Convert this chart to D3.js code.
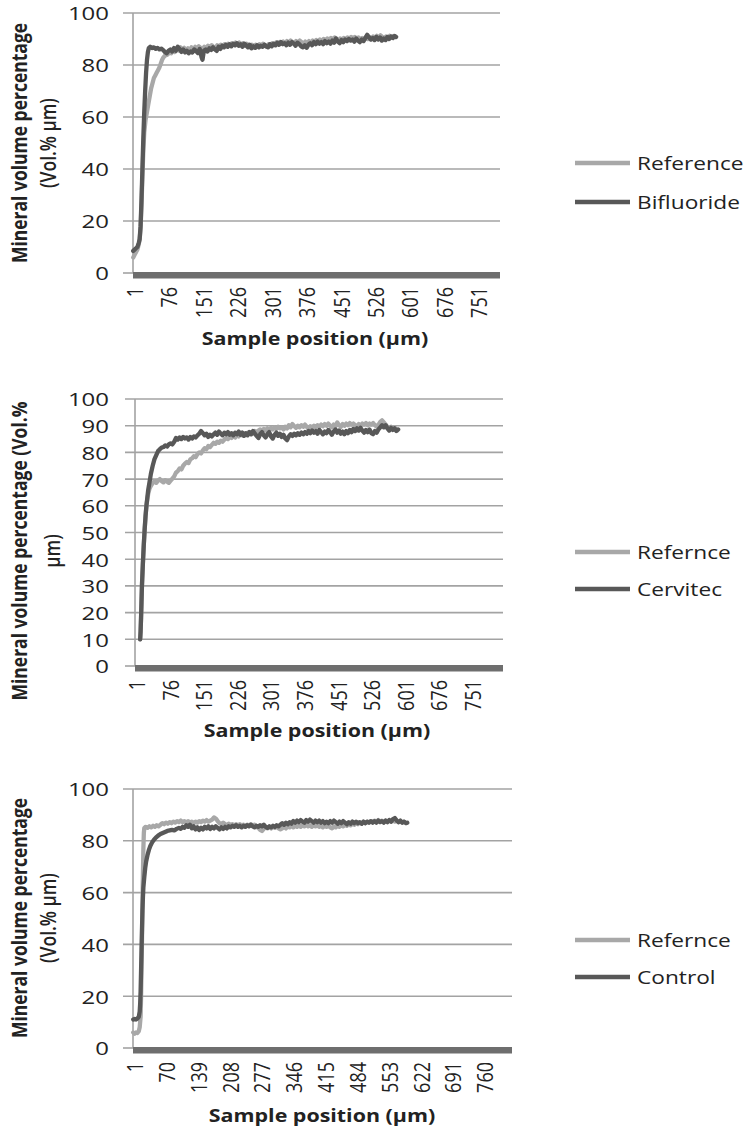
<!DOCTYPE html>
<html><head><meta charset="utf-8">
<script src="https://cdn.jsdelivr.net/npm/d3@7"></script>
<style>html,body{margin:0;padding:0;background:#fff;}svg{display:block;}</style>
</head><body>
<svg id="chart" width="750" height="1130"></svg>
<script>
// ---------- DATA ----------
const ticks1 = [1,76,151,226,301,376,451,526,601,676,751];
const ticks2 = [1,76,151,226,301,376,451,526,601,676,751];
const ticks3 = [1,70,139,208,277,346,415,484,553,622,691,760];
const yTicks1 = [0,20,40,60,80,100];
const yTicks2 = [0,10,20,30,40,50,60,70,80,90,100];
const yTicks3 = [0,20,40,60,80,100];

const legend1 = ["Reference","Bifluoride"];
const legend2 = ["Refernce","Cervitec"];
const legend3 = ["Refernce","Control"];

// [sample position (µm), mineral volume %]
const ref1 = [[1,6],[4,7],[7,8],[10,9],[13,11],[15,13],[17,17],[19,26],[21,37],[23,47],[25,54],[28,59],[31,62],[34,65],[37,68],[40,71],[43,73],[46,75],[49,76],[52,77],[55,78],[58,79],[61,80.5],[64,82],[67,83],[70,83.5],[73,84.5],[76,84],[80,85],[84,84.5],[88,85.8],[92,85],[96,86.4],[100,85.6],[104,86.8],[108,86],[112,86.6],[116,85.8],[120,86.4],[124,85.6],[128,86.8],[132,86.2],[136,87],[140,86.4],[144,87.2],[148,86.6],[152,86],[156,87],[160,86.4],[164,87.4],[168,86.8],[172,87.6],[176,87],[180,86.4],[184,87.6],[188,87],[192,87.8],[196,87.2],[200,88],[204,87.4],[208,88.2],[212,87.6],[216,88.4],[220,87.8],[224,88.6],[228,88],[232,88.6],[236,87.8],[240,88.4],[244,87.4],[248,88.2],[252,87.6],[256,86.8],[260,87.8],[264,87],[268,87.8],[272,87.2],[276,88],[280,87.4],[284,88.2],[288,87.6],[292,87],[296,88],[300,87.6],[304,88.4],[308,87.8],[312,88.6],[316,88],[320,88.8],[324,88.2],[328,89],[332,88.4],[336,89.2],[340,88.6],[344,89.4],[348,88.8],[352,88.2],[356,89.2],[360,88.6],[364,89.4],[368,88.8],[372,88.2],[376,89],[380,88.4],[384,89.2],[388,88.6],[392,89.4],[396,88.8],[400,89.6],[404,89],[408,89.8],[412,89.2],[416,90],[420,89.4],[424,90.2],[428,89.6],[432,90.4],[436,89.8],[440,90.6],[444,90],[448,89.4],[452,90.2],[456,89.6],[460,90.4],[464,89.8],[468,90.6],[472,90],[476,90.8],[480,90.2],[484,90.8],[488,90],[492,90.6],[496,89.8],[500,90.4],[504,89.8],[508,90.6],[512,90],[516,90.8],[520,90.2],[524,91],[528,90.4],[532,91.2],[536,90.6],[540,91.4],[544,90.8],[548,90.2],[552,91],[556,90.4],[560,91.2],[564,90.6],[568,91.2],[572,90.8]];
const bifluoride = [[1,8.5],[4,9],[7,9.5],[10,10],[13,11.5],[15,13],[17,18],[19,28],[21,40],[23,52],[25,62],[27,70],[29,77],[31,82],[33,85],[35,86.5],[38,87],[42,86.5],[46,86.8],[50,86.2],[54,86.6],[58,86],[62,86.3],[66,85.8],[70,85],[74,84.5],[78,85.5],[82,86],[86,85.2],[90,86.5],[94,85.5],[98,87],[102,86.2],[106,85],[110,86],[114,84.8],[118,85.5],[122,84.5],[126,85.2],[130,84.8],[134,86],[138,85.4],[142,84.6],[146,86.2],[150,83],[152,82],[155,85.5],[159,86],[163,85.2],[167,86.4],[171,85.8],[175,86.8],[179,86],[183,85.4],[187,87],[191,86.2],[195,87.4],[199,86.8],[203,87.8],[207,87],[211,88],[215,87.2],[219,88.2],[223,87.6],[227,88.4],[231,87.4],[235,88],[239,87],[243,88.2],[247,87.6],[251,86.8],[255,87.8],[259,86.4],[263,87.2],[267,86.6],[271,87.6],[275,86.8],[279,87.4],[283,87],[287,87.8],[291,87.2],[295,86.8],[299,88],[303,87.2],[307,88.2],[311,87.6],[315,88.6],[319,87.8],[323,88.8],[327,88],[331,88.4],[335,87.6],[339,88.6],[343,87.8],[347,88.8],[351,88.2],[355,87.4],[359,88.6],[363,88],[367,87.2],[371,86.8],[375,87.6],[379,86.6],[383,87.8],[387,88.4],[391,87.6],[395,88.8],[399,88],[403,89],[407,88.2],[411,88.8],[415,88],[419,89.2],[423,88.4],[427,89],[431,88.2],[435,89.4],[439,88.6],[443,90.2],[447,89],[451,88.4],[455,89.6],[459,88.8],[463,89.8],[467,89.2],[471,90],[475,89.4],[479,89.8],[483,89],[487,90.2],[491,89.4],[495,88.8],[499,89.8],[503,89.2],[507,90.4],[511,91.6],[515,90.6],[519,89.8],[523,90.4],[527,89.6],[531,90.8],[535,89.8],[539,90.6],[543,89.4],[547,90.2],[551,89.6],[555,90.8],[559,90],[563,91],[567,90.4],[571,91.2],[574,90.8]];

const ref2 = [[12,10],[13,13],[14,18],[15,24],[16,30],[18,38],[20,45],[22,51],[24,56],[26,60],[28,62.5],[30,64.5],[33,66.5],[36,67.5],[40,68.5],[44,69.2],[48,68.6],[52,69.4],[56,70],[60,69.2],[64,68.8],[68,69.6],[72,69],[76,68.6],[80,69.4],[84,70.2],[88,71],[92,72.4],[96,73],[100,74],[104,73.6],[108,75],[112,75.8],[116,76.4],[120,76],[124,77.4],[128,77.8],[132,78.6],[136,78.2],[140,79.4],[144,80],[148,79.6],[152,80.8],[156,81.6],[160,81.2],[164,82.4],[168,82],[172,82.8],[176,83.6],[180,83.2],[184,84],[188,83.6],[192,84.4],[196,84],[200,84.8],[204,85.4],[208,85],[212,85.8],[216,85.4],[220,86.2],[224,85.6],[228,86.6],[232,86],[236,86.8],[240,86.4],[244,87],[248,86.6],[252,87.4],[256,87],[260,87.6],[264,87.2],[268,88],[272,87.4],[276,88.2],[280,88.6],[284,88],[288,88.8],[292,88.2],[296,89],[300,88.4],[304,89.2],[308,88.6],[312,89.4],[316,88.8],[320,89.6],[324,89],[328,89.4],[332,88.6],[336,89.6],[340,89],[344,90.2],[348,89.4],[352,90.6],[356,89.8],[360,89.2],[364,90],[368,89.4],[372,90.2],[376,89.6],[380,90.4],[384,89.6],[388,88.8],[392,89.8],[396,89.2],[400,90],[404,89.4],[408,90.2],[412,89.6],[416,90.4],[420,89.8],[424,90.6],[428,90],[432,90.8],[436,90],[440,89.4],[444,90.4],[448,89.8],[452,91.2],[456,90.2],[460,89.6],[464,90.6],[468,90],[472,90.8],[476,90.2],[480,91],[484,90.4],[488,90.8],[492,90.2],[496,89.6],[500,90.6],[504,90],[508,90.8],[512,90.4],[516,91],[520,90.2],[524,90.8],[528,90.4],[532,91],[536,90.2],[540,89.6],[544,90.4],[548,91.4],[552,92],[556,91.2],[560,90.4],[564,89.6],[568,89],[572,89.6],[576,88.8],[580,89.4],[584,88.6]];
const cervitec = [[12,10],[13,13],[14,18],[15,24],[16,30],[18,38],[20,45],[22,51],[24,56],[26,60],[28,63],[30,66],[33,69],[36,72],[40,75],[44,77.5],[48,79],[52,80.5],[56,81.2],[60,81.8],[64,82],[68,82.6],[72,82.2],[76,83],[80,83.4],[84,83],[88,84],[92,85.4],[96,84.8],[100,85.6],[104,85],[108,85.8],[112,85.2],[116,85.6],[120,84.8],[124,85.8],[128,85.2],[132,86],[136,85.6],[140,86.4],[144,87],[148,88],[152,87.2],[156,86.4],[160,87],[164,85.8],[168,86.6],[172,86],[176,86.8],[180,87.4],[184,86.6],[188,87.8],[192,87],[196,86.4],[200,87.4],[204,86.8],[208,87.6],[212,86.6],[216,87.2],[220,86.4],[224,87.4],[228,86.8],[232,87.8],[236,86.6],[240,87.4],[244,86.2],[248,87.2],[252,86.4],[256,87.6],[260,86.8],[264,88],[268,87],[272,86.2],[276,85.4],[280,86.8],[284,87.6],[288,86.4],[292,85.6],[296,86.8],[300,87.6],[304,86],[308,85.2],[312,86.6],[316,87.4],[320,86.2],[324,87],[328,85.8],[332,86.6],[336,85.2],[340,84.6],[344,86],[348,86.8],[352,86.2],[356,87],[360,86.4],[364,87.2],[368,86.6],[372,87.4],[376,86.8],[380,87.6],[384,87],[388,88],[392,87.2],[396,88.2],[400,87.4],[404,88],[408,87],[412,88.4],[416,87.6],[420,86.8],[424,87.8],[428,87.2],[432,88.4],[436,87.6],[440,86.6],[444,87.8],[448,88.6],[452,87.4],[456,88.2],[460,87],[464,87.8],[468,86.8],[472,88],[476,87.2],[480,88.4],[484,87.6],[488,88.8],[492,88],[496,89],[500,88.2],[504,89.2],[508,88.2],[512,87.4],[516,88.4],[520,87.6],[524,88.6],[528,87.2],[532,86.8],[536,88],[540,87.4],[544,88.6],[548,89.4],[552,90.2],[556,89.4],[560,90.2],[564,89],[568,88.2],[572,89.2],[576,88.4],[580,89],[584,88],[588,88.6]];

const ref3 = [[1,6],[4,5.5],[7,6],[10,5.8],[13,6.5],[15,8],[17,12],[18,20],[19,30],[20,42],[21,55],[22,67],[23,77],[24,83],[25,85],[28,85.4],[32,85],[36,85.6],[40,85.2],[44,85.8],[48,85.4],[52,86],[56,85.6],[60,86.2],[64,86.8],[68,86.4],[72,87],[76,86.6],[80,87.2],[84,86.8],[88,87.4],[92,87],[96,87.6],[100,87.2],[104,87.8],[108,87.2],[112,87.6],[116,87],[120,87.6],[124,87],[128,87.4],[132,86.8],[136,87.4],[140,87],[144,87.6],[148,87.2],[152,87.8],[156,87.4],[160,88],[164,87.4],[168,87.8],[172,88.2],[176,89],[180,88.6],[184,87.6],[188,86.8],[192,86.4],[196,87],[200,86.4],[204,86],[208,86.6],[212,86],[216,86.4],[220,85.8],[224,86.4],[228,85.8],[232,86.4],[236,85.8],[240,86.2],[244,85.6],[248,86.2],[252,85.8],[256,86.4],[260,85.8],[264,86.2],[268,85.4],[272,85],[276,84.2],[280,83.8],[284,84.6],[288,85.4],[292,84.8],[296,85.4],[300,84.8],[304,85.6],[308,85],[312,85.6],[316,84.8],[320,84.4],[324,84.8],[328,85.4],[332,84.8],[336,85.6],[340,85.2],[344,85.8],[348,85.2],[352,85.8],[356,85.4],[360,86],[364,85.4],[368,86],[372,85.6],[376,86.2],[380,85.6],[384,86],[388,85.4],[392,86],[396,85.6],[400,86.2],[404,85.4],[408,85.8],[412,85.2],[416,85.8],[420,85.4],[424,86],[428,85.2],[432,84.8],[436,85.6],[440,85.2],[444,85.8],[448,85.4],[452,86.2],[456,85.6],[460,86.2],[464,85.8],[468,86.4],[472,86],[476,86.6],[480,86.2],[484,86.8],[488,86.4],[492,87],[496,86.6],[500,87.2],[504,86.8],[508,87.4],[512,87],[516,87.6],[520,87.2],[524,87.8],[528,87.4],[532,88],[536,87.4],[540,87.8],[544,87.2],[548,87.8],[552,87.4],[556,88],[560,87.4],[564,88],[568,87.4],[572,87.8],[576,87.2],[580,87.6],[584,87],[588,87.4]];
const control = [[1,11],[4,11.2],[7,11],[10,11.4],[13,12],[15,14],[16,17],[17,22],[18,30],[19,38],[20,46],[21,53],[22,58],[23,62],[25,66],[27,69.5],[29,72],[32,74.5],[35,76.5],[38,78],[42,79.4],[46,80.4],[50,81.2],[55,82],[60,82.6],[65,83],[70,83.4],[75,83.8],[80,84],[85,84.2],[90,84],[95,84.6],[100,85],[104,84.6],[108,85.4],[112,85],[116,86],[120,85.4],[124,86.2],[128,84.8],[132,85.6],[136,84.4],[140,85.2],[144,84.2],[148,85],[152,84.4],[156,85.4],[160,84.8],[164,85.6],[168,84.6],[172,85.4],[176,84.8],[180,85.6],[184,85],[188,84.4],[192,85.2],[196,84.6],[200,85.4],[204,84.8],[208,85.6],[212,85.2],[216,85.8],[220,85.4],[224,86],[228,85.4],[232,85.8],[236,85.2],[240,85.8],[244,85.4],[248,86],[252,85.6],[256,86.2],[260,85.6],[264,85.2],[268,85.8],[272,85.4],[276,86],[280,85.6],[284,86.2],[288,85.4],[292,85],[296,85.6],[300,85.2],[304,85.8],[308,85.4],[312,86],[316,85.6],[320,86.2],[324,86.8],[328,86.2],[332,87],[336,86.4],[340,87.2],[344,86.6],[348,87.6],[352,87],[356,87.8],[360,87.2],[364,88],[368,87.4],[372,87],[376,88],[380,87.4],[384,88.2],[388,87.6],[392,87],[396,87.8],[400,87.2],[404,87.8],[408,87],[412,87.6],[416,86.8],[420,87.4],[424,86.8],[428,87.6],[432,87],[436,87.8],[440,87.2],[444,86.6],[448,87.4],[452,86.8],[456,87.6],[460,87],[464,86.4],[468,87.2],[472,86.6],[476,87.4],[480,86.8],[484,87.4],[488,86.8],[492,87.2],[496,86.6],[500,87.4],[504,86.8],[508,87.4],[512,87],[516,87.6],[520,87],[524,87.6],[528,87],[532,87.8],[536,87.2],[540,87.6],[544,87],[548,87.8],[552,87.2],[556,88],[560,87.4],[564,88.4],[568,88.8],[572,87.8],[576,87.2],[580,87.8],[584,87],[588,87.4],[592,86.8],[595,87]];

const xTitle = "Sample position (µm)";
const yTitle1 = ["Mineral volume percentage","(Vol.% µm)"];
const yTitle2 = ["Mineral volume percentage (Vol.%","µm)"];
const yTitle3 = ["Mineral volume percentage","(Vol.% µm)"];

// ---------- LAYOUT ----------
const FONT = "'Open Sans', 'DejaVu Sans', sans-serif";
const SX = 1.26;
const LIGHT = "#a8a8a8", DARK = "#585858", GRID = "#a3a3a3", TXT = "#222";

const panels = [
  {x0:133, x1:500, yTop:13, yBot:273, xMax:800.5, ticks:ticks1, yTicks:yTicks1, series:[ref1,bifluoride], legend:legend1, legY:[163,202], yTitle:yTitle1, yTitleX:[19,48], yTitleY:143, xTitleX:315, xTitleY:338},
  {x0:135, x1:503, yTop:399, yBot:666, xMax:822, ticks:ticks2, yTicks:yTicks2, series:[ref2,cervitec], legend:legend2, legY:[552,589], yTitle:yTitle2, yTitleX:[19,52], yTitleY:551, xTitleX:317, xTitleY:730},
  {x0:133, x1:512, yTop:789, yBot:1048, xMax:822, ticks:ticks3, yTicks:yTicks3, series:[ref3,control], legend:legend3, legY:[940,977], yTitle:yTitle3, yTitleX:[19,48], yTitleY:918, xTitleX:322, xTitleY:1115}
];

const svg = d3.select("#chart");

function sText(g, x, y, str, o) {
  return g.append("g").attr("transform", `translate(${x},${y}) scale(${SX},1)` + (o.rot ? ` rotate(${o.rot})` : ""))
    .append("text").text(str)
    .attr("font-family", FONT).attr("font-size", o.size).attr("font-weight", o.weight || 400)
    .attr("fill", o.fill || TXT).attr("text-anchor", o.anchor || "start")
    .attr("dominant-baseline", "central");
}

panels.forEach(p => {
  const g = svg.append("g");
  const x = d3.scaleLinear().domain([0.5, p.xMax]).range([p.x0, p.x1]);
  const y = d3.scaleLinear().domain([0, 100]).range([p.yBot, p.yTop]);

  // gridlines + tick stubs
  g.selectAll("line.grid").data(p.yTicks.filter(v => v > 0)).join("line")
    .attr("x1", p.x0 - 10).attr("x2", p.x1)
    .attr("y1", d => y(d)).attr("y2", d => y(d))
    .attr("stroke", GRID).attr("stroke-width", 1.6);
  g.append("line").attr("x1", p.x0 - 10).attr("x2", p.x0).attr("y1", y(0)).attr("y2", y(0))
    .attr("stroke", GRID).attr("stroke-width", 1.6);
  // y axis line
  g.append("line").attr("x1", p.x0).attr("x2", p.x0).attr("y1", y(100)).attr("y2", y(0))
    .attr("stroke", GRID).attr("stroke-width", 1.6);
  // thick base bar
  g.append("rect").attr("x", p.x0).attr("y", y(0) - 1).attr("width", p.x1 - p.x0).attr("height", 6.5)
    .attr("fill", "#6e6e6e");

  // y tick labels
  p.yTicks.forEach(v => sText(g, 109, y(v), String(v), {size: 19, anchor: "end"}));
  // x tick labels (rotated)
  p.ticks.forEach(v => sText(g, x(v) + 1, y(0) + 14, String(v), {size: 18, anchor: "end", rot: -90}));

  // titles
  sText(g, p.xTitleX, p.xTitleY, xTitle, {size: 17, weight: 700, anchor: "middle"});
  sText(g, p.yTitleX[0], p.yTitleY, p.yTitle[0], {size: 17.5, weight: 700, anchor: "middle", rot: -90});
  sText(g, p.yTitleX[1], p.yTitleY, p.yTitle[1], {size: 17.5, weight: 600, anchor: "middle", rot: -90});

  // lines
  const line = d3.line().x(d => x(d[0])).y(d => y(d[1]));
  const cols = [LIGHT, DARK];
  p.series.forEach((s, i) => {
    g.append("path").datum(s).attr("d", line).attr("fill", "none")
      .attr("stroke", cols[i]).attr("stroke-width", 4.3).attr("stroke-linejoin", "round").attr("stroke-linecap", "round");
  });

  // legend
  p.legend.forEach((name, i) => {
    g.append("line").attr("x1", 575).attr("x2", 630).attr("y1", p.legY[i]).attr("y2", p.legY[i])
      .attr("stroke", cols[i]).attr("stroke-width", 4.3);
    sText(g, 637, p.legY[i], name, {size: 18});
  });
});
</script>
</body></html>
